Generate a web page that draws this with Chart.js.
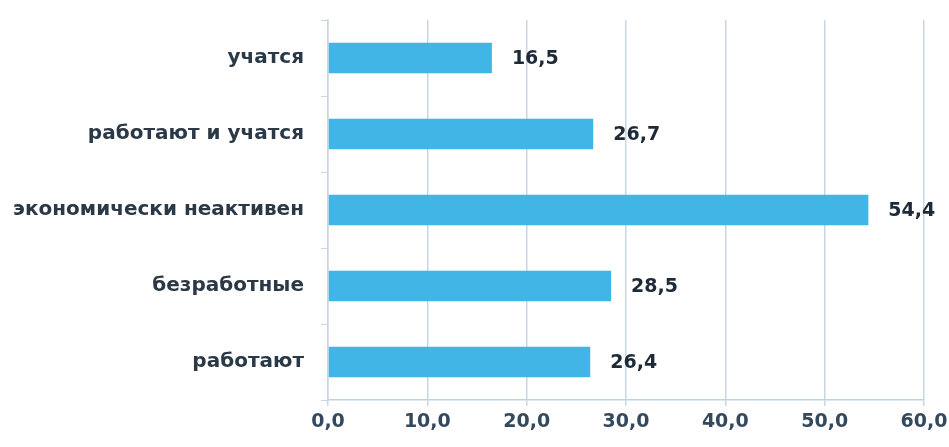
<!DOCTYPE html>
<html>
<head>
<meta charset="utf-8">
<script src="https://cdn.jsdelivr.net/npm/chart.js@4"></script>
<style>
  html, body { margin: 0; padding: 0; background: #fff; }
  #wrap { width: 949px; height: 447px; }
</style>
</head>
<body>
<div id="wrap"><canvas id="chart"></canvas></div>
<script>
let categories = ['учатся', 'работают и учатся', 'экономически неактивен', 'безработные', 'работают']
let values = [16.5, 26.7, 54.4, 28.5, 26.4]
let xTicks = [0, 10, 20, 30, 40, 50, 60]

let fmt = (v) => v.toFixed(1).replace('.', ',')

// value labels at bar ends
let valueLabels = {
  id: 'valueLabels',
  afterDatasetsDraw(chart) {
    let ctx = chart.ctx
    let meta = chart.getDatasetMeta(0)
    ctx.save()
    ctx.font = 'bold 19px "DejaVu Sans"'
    ctx.fillStyle = '#1e2a38'
    ctx.textAlign = 'left'
    ctx.textBaseline = 'middle'
    meta.data.forEach((bar, i) => {
      ctx.fillText(fmt(values[i]), bar.x + 20, bar.y + 1)
    })
    ctx.restore()
  }
}

let chart = new Chart(document.querySelector('#chart'), {
  type: 'bar',
  data: {
    labels: categories,
    datasets: [{
      data: values,
      backgroundColor: '#41b6e6',
      borderWidth: 0,
      barPercentage: 0.4,
      categoryPercentage: 1
    }]
  },
  options: {
    indexAxis: 'y',
    responsive: true,
    maintainAspectRatio: false,
    animation: false,
    layout: { padding: { top: 20, right: 25, left: 0, bottom: 0 } },
    plugins: { legend: { display: false }, tooltip: { enabled: false } },
    scales: {
      x: {
        min: 0,
        max: 60,
        afterBuildTicks: (s) => { s.ticks = xTicks.map(v => ({ value: v })) },
        afterFit: (s) => { s.height = 47; s.paddingLeft = 0; s.paddingRight = 0 },
        grid: { color: '#c9d6e3', lineWidth: 1.5, tickLength: 6, drawTicks: true },
        border: { color: '#bcd3e6', width: 1.5 },
        ticks: {
          callback: (v) => fmt(v),
          color: '#34495e',
          font: { family: 'DejaVu Sans', size: 19, weight: 'bold' },
          padding: 5
        }
      },
      y: {
        afterFit: (s) => { s.width = 328; s.paddingTop = 0; s.paddingBottom = 0 },
        grid: { drawOnChartArea: false, color: '#c9d6e3', tickLength: 7, offset: true },
        border: { color: '#c9d6e3', width: 1.5 },
        ticks: {
          color: '#2b3846',
          font: { family: 'DejaVu Sans', size: 20, weight: 'bold' },
          padding: 17
        }
      }
    }
  },
  plugins: [valueLabels]
})
</script>
</body>
</html>
